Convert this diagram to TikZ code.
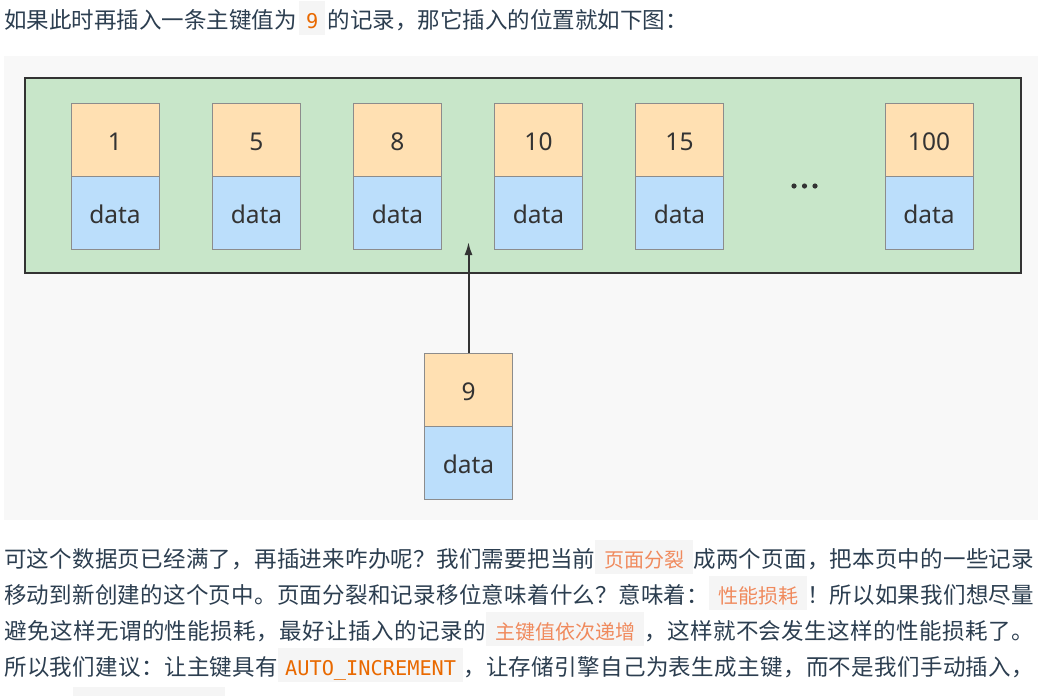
\documentclass[tikz,border=0pt]{standalone}
\usepackage{fontspec}
\usepackage{xcolor}
\usetikzlibrary{arrows.meta,positioning}

\newfontfamily\cjkfont{Noto Sans CJK SC}
\newfontfamily\monofont{DejaVu Sans Mono}
\newfontfamily\cellfont{Noto Sans}

% stretchable glue between CJK characters, for the justified lines
\newcount\cjkidx
\cjkidx="4E00
\loop\ifnum\cjkidx<"A000
  \XeTeXcharclass\cjkidx=5
  \advance\cjkidx 1
\repeat
\XeTeXcharclass"FF0C=5 \XeTeXcharclass"FF1A=5 \XeTeXcharclass"FF1F=5
\XeTeXcharclass"FF01=5 \XeTeXcharclass"3002=5
\XeTeXinterchartoks 5 5 = {\hskip 0pt plus 1pt\relax}
\newcommand\spreadline[1]{\hbox to 1030pt{\XeTeXinterchartokenstate=1 #1}}

\definecolor{textcol}{HTML}{2C3E50}
\definecolor{codebg}{HTML}{F5F5F5}
\definecolor{codeorange}{HTML}{E96900}
\definecolor{codesoft}{HTML}{F08A5D}
\definecolor{panelbg}{HTML}{F8F8F8}
\definecolor{pagegreen}{HTML}{C8E6C9}
\definecolor{keypeach}{HTML}{FFE0B2}
\definecolor{datablue}{HTML}{BBDEFB}
\definecolor{cellline}{HTML}{8C8C8C}
\definecolor{inkgray}{HTML}{333333}

\newcommand\codebox[2]{{\setlength\fboxsep{0pt}\colorbox{codebg}{\rule[-6.7pt]{0pt}{34pt}\hspace{#1}#2\hspace{#1}}}}
\newcommand\codelat[1]{\codebox{7pt}{\monofont\fontsize{20.3}{24}\selectfont\color{codeorange}#1}}
\newcommand\codecjk[1]{\codebox{9pt}{\XeTeXinterchartokenstate=0 \fontsize{20}{24}\selectfont\color{codesoft}#1}}

\begin{document}
\begin{tikzpicture}[
x=1pt, y=-1pt, >={Latex[length=13pt,width=8pt]},
every node/.style = {text=textcol},
text-line/.style = {anchor=base west, inner sep=0, font={\cjkfont\fontsize{22.5}{30}\selectfont}},
page-box/.style = {draw=inkgray, line width=1.5pt, fill=pagegreen, minimum width=996pt, minimum height=195pt, inner sep=0},
key-cell/.style = {draw=cellline, line width=1pt, fill=keypeach, minimum width=88pt, minimum height=73pt, inner sep=0, outer sep=0, text height=22.5pt, text depth=0pt, text=inkgray, font={\cellfont\fontsize{24.5}{28}\selectfont}},
data-cell/.style = {key-cell, fill=datablue}
]

\useasboundingbox (0,0) rectangle (1038,696);
\fill[white] (0,0) rectangle (1038,696);

% intro line
\node[text-line] (intro) at (4,28.5)
  {如果此时再插入一条主键值为\hspace{2.5pt}\codelat{9}\hspace{2.5pt}的记录，那它插入的位置就如下图：};

% figure panel
\fill[panelbg] (4,56) rectangle (1038,520);
\node[page-box] (page) at (523,175.5) {};

\foreach \cx/\key in {115/1, 256.5/5, 397.5/8, 538.5/10, 679.5/15, 929/100} {
  \node[key-cell] (k\key) at (\cx,139.5) {\key};
  \node[data-cell, below=0pt of k\key] (d\key) {data};
}
\foreach \dx in {-10.5, 0, 10.5}
  \fill[inkgray] (804.5+\dx,186) circle (2.6pt);

% new record
\node[key-cell] (k9) at (468.5,389.5) {9};
\node[data-cell, below=0pt of k9] (d9) {data};
\coordinate (slot) at (468.5,242);
\draw[->, inkgray, line width=2pt] (k9.north) -- (slot);

% text below
\node[text-line] (p1) at (4,567.3) {\spreadline{%
  可这个数据页已经满了，再插进来咋办呢？我们需要把当前\codecjk{页面分裂}成两个页面，把本页中的一些记录}};
\node[text-line] (p2) at (4,603.3) {\spreadline{%
  移动到新创建的这个页中。页面分裂和记录移位意味着什么？意味着：\codecjk{性能损耗}！所以如果我们想尽量}};
\node[text-line] (p3) at (4,639.3) {\spreadline{%
  避免这样无谓的性能损耗，最好让插入的记录的\codecjk{主键值依次递增}，这样就不会发生这样的性能损耗了。}};
\node[text-line] (p4) at (4,675.3) {\spreadline{%
  所以我们建议：让主键具有\codelat{AUTO\_INCREMENT}，让存储引擎自己为表生成主键，而不是我们手动插入，}};
\fill[codebg] (73,687) rectangle (225,696);

\end{tikzpicture}
\end{document}
